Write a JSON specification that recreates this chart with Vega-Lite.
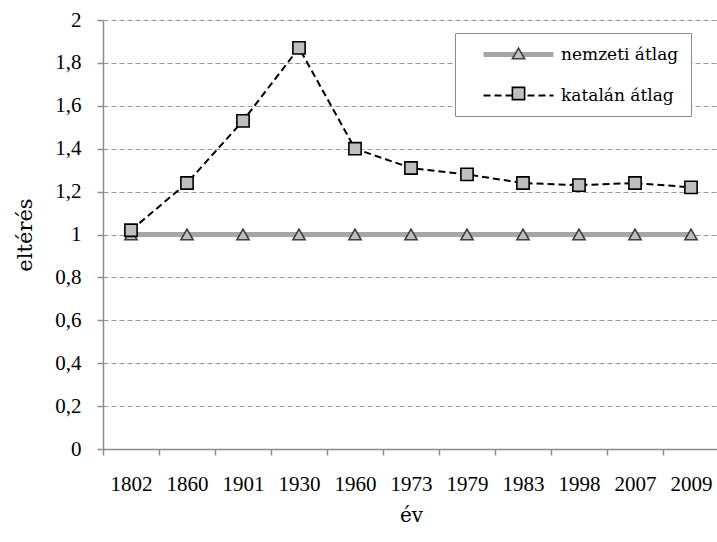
{
  "$schema": "https://vega.github.io/schema/vega-lite/v6.json",
  "width": 616,
  "height": 429,
  "autosize": "none",
  "padding": {"left": 103, "top": 20, "right": 0, "bottom": 93},
  "background": "white",
  "config": {
    "font": "Liberation Serif",
    "view": {"stroke": null},
    "axis": {
      "labelFont": "Liberation Serif",
      "titleFont": "DejaVu Serif",
      "labelFontSize": 21,
      "titleFontSize": 20,
      "titleFontWeight": "normal",
      "labelColor": "#000000",
      "titleColor": "#000000",
      "domainColor": "#8c8c8c",
      "domainWidth": 1.5,
      "tickColor": "#8c8c8c",
      "tickWidth": 1.5,
      "tickSize": 6
    },
    "legend": {
      "labelFont": "DejaVu Serif",
      "labelFontSize": 17,
      "labelColor": "#000000"
    }
  },
  "data": {
    "values": [
      {"year": "1802", "series": "nemzeti átlag", "value": 1},
      {"year": "1860", "series": "nemzeti átlag", "value": 1},
      {"year": "1901", "series": "nemzeti átlag", "value": 1},
      {"year": "1930", "series": "nemzeti átlag", "value": 1},
      {"year": "1960", "series": "nemzeti átlag", "value": 1},
      {"year": "1973", "series": "nemzeti átlag", "value": 1},
      {"year": "1979", "series": "nemzeti átlag", "value": 1},
      {"year": "1983", "series": "nemzeti átlag", "value": 1},
      {"year": "1998", "series": "nemzeti átlag", "value": 1},
      {"year": "2007", "series": "nemzeti átlag", "value": 1},
      {"year": "2009", "series": "nemzeti átlag", "value": 1},
      {"year": "1802", "series": "katalán átlag", "value": 1.02},
      {"year": "1860", "series": "katalán átlag", "value": 1.24},
      {"year": "1901", "series": "katalán átlag", "value": 1.53},
      {"year": "1930", "series": "katalán átlag", "value": 1.87},
      {"year": "1960", "series": "katalán átlag", "value": 1.40},
      {"year": "1973", "series": "katalán átlag", "value": 1.31},
      {"year": "1979", "series": "katalán átlag", "value": 1.28},
      {"year": "1983", "series": "katalán átlag", "value": 1.24},
      {"year": "1998", "series": "katalán átlag", "value": 1.23},
      {"year": "2007", "series": "katalán átlag", "value": 1.24},
      {"year": "2009", "series": "katalán átlag", "value": 1.22}
    ]
  },
  "encoding": {
    "x": {
      "field": "year",
      "type": "ordinal",
      "sort": null,
      "scale": {"type": "band", "paddingInner": 0, "paddingOuter": 0},
      "axis": {
        "title": "év",
        "labelAngle": 0,
        "tickBand": "extent",
        "grid": false,
        "labelPadding": 18,
        "titlePadding": 11
      }
    },
    "y": {
      "field": "value",
      "type": "quantitative",
      "scale": {"domain": [0, 2], "nice": false},
      "axis": {
        "title": "eltérés",
        "titleFontSize": 21,
        "values": [0, 0.2, 0.4, 0.6, 0.8, 1, 1.2, 1.4, 1.6, 1.8, 2],
        "labelExpr": "replace(format(datum.value, '.1~f'), '.', ',')",
        "grid": true,
        "gridColor": "#999999",
        "gridDash": [5, 3],
        "gridWidth": 1,
        "labelPadding": 16,
        "titlePadding": 19
      }
    }
  },
  "layer": [
    {
      "mark": {"type": "line"},
      "encoding": {
        "color": {
          "field": "series",
          "type": "nominal",
          "scale": {"domain": ["nemzeti átlag", "katalán átlag"], "range": ["#a6a6a6", "#000000"]},
          "legend": {
            "title": null,
            "orient": "none",
            "legendX": 352,
            "legendY": 13,
            "padding": 12,
            "symbolOffset": 42,
            "symbolType": "M-5,0H5",
            "symbolSize": 196,
            "symbolStrokeWidth": 1.5,
            "rowPadding": 21,
            "labelOffset": 33,
            "strokeColor": "#8c8c8c",
            "fillColor": "white",
            "encode": {
              "symbols": {
                "update": {
                  "strokeWidth": {"signal": "datum.value === 'nemzeti átlag' ? 5 : 2.5"},
                  "strokeDash": {"signal": "datum.value === 'nemzeti átlag' ? [1, 0] : [8, 9]"}
                }
              }
            }
          }
        },
        "strokeDash": {
          "field": "series",
          "type": "nominal",
          "scale": {"domain": ["nemzeti átlag", "katalán átlag"], "range": [[1, 0], [7, 4]]},
          "legend": {
            "title": null,
            "orient": "none",
            "legendX": 352,
            "legendY": 13
          }
        },
        "strokeWidth": {
          "field": "series",
          "type": "nominal",
          "scale": {"domain": ["nemzeti átlag", "katalán átlag"], "range": [5, 2]},
          "legend": null
        }
      }
    },
    {
      "mark": {"type": "point", "filled": true, "fill": "#bfbfbf", "opacity": 1, "strokeWidth": 1.6, "size": 150},
      "encoding": {
        "shape": {
          "field": "series",
          "type": "nominal",
          "scale": {"domain": ["katalán átlag", "nemzeti átlag"], "range": ["square", "triangle-up"]},
          "legend": {
            "title": null,
            "values": ["nemzeti átlag", "katalán átlag"],
            "orient": "none",
            "legendX": 352,
            "legendY": 13,
            "padding": 12,
            "symbolOffset": 43,
            "rowPadding": 21,
            "labelExpr": "''",
            "strokeColor": null,
            "symbolFillColor": "#bfbfbf",
            "symbolSize": 150,
            "symbolStrokeWidth": 1.6
          }
        },
        "stroke": {
          "field": "series",
          "type": "nominal",
          "scale": {"domain": ["katalán átlag", "nemzeti átlag"], "range": ["#000000", "#404040"]},
          "legend": {
            "title": null,
            "orient": "none",
            "legendX": 352,
            "legendY": 13
          }
        }
      }
    }
  ]
}
